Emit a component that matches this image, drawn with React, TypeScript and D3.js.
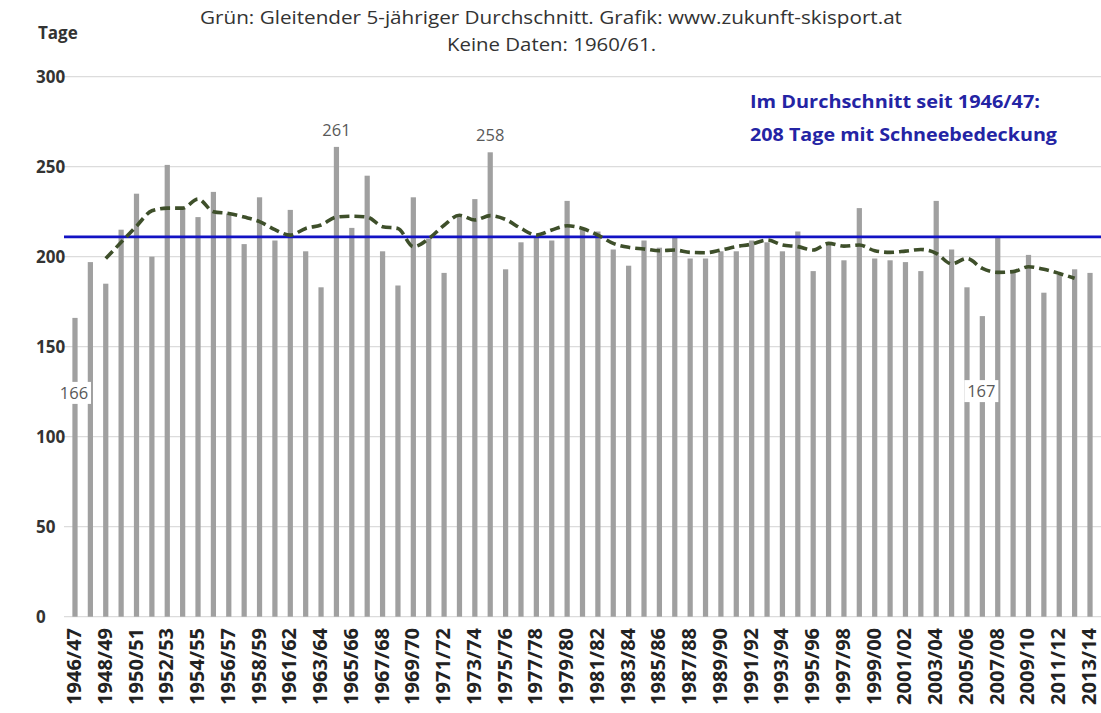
import * as d3 from "d3";
import React from "react";

// Schneebedeckung pro Winter (Tage), 1960/61 fehlt
const seasons = [
  "1946/47", "1947/48", "1948/49", "1949/50", "1950/51", "1951/52", "1952/53", "1953/54",
  "1954/55", "1955/56", "1956/57", "1957/58", "1958/59", "1959/60", "1961/62", "1962/63",
  "1963/64", "1964/65", "1965/66", "1966/67", "1967/68", "1968/69", "1969/70", "1970/71",
  "1971/72", "1972/73", "1973/74", "1974/75", "1975/76", "1976/77", "1977/78", "1978/79",
  "1979/80", "1980/81", "1981/82", "1982/83", "1983/84", "1984/85", "1985/86", "1986/87",
  "1987/88", "1988/89", "1989/90", "1990/91", "1991/92", "1992/93", "1993/94", "1994/95",
  "1995/96", "1996/97", "1997/98", "1998/99", "1999/00", "2000/01", "2001/02", "2002/03",
  "2003/04", "2004/05", "2005/06", "2006/07", "2007/08", "2008/09", "2009/10", "2010/11",
  "2011/12", "2012/13", "2013/14",
];

const snowDays = [
  166, 197, 185, 215, 235, 200, 251, 227, 222, 236, 224, 207, 233, 209, 226, 203,
  183, 261, 216, 245, 203, 184, 233, 210, 191, 222, 232, 258, 193, 208, 211, 209,
  231, 215, 214, 204, 195, 209, 205, 211, 199, 199, 203, 203, 209, 208, 203, 214,
  192, 208, 198, 227, 199, 198, 197, 192, 231, 204, 183, 167, 211, 192, 201, 180,
  190, 193, 191,
];

// gleitender 5-jähriger Durchschnitt
const movingAvg: (number | null)[] = [
  null, null, 199, 208, 217, 225.5, 227, 227, 232, 225, 224, 222, 219.5, 215, 212, 215.7,
  217.6, 222, 222.5, 222, 216.7, 215.7, 205.6, 210, 217.5, 223, 220.4, 222.8, 220.7, 215.7, 212, 214.8,
  217.2, 215.7, 212, 207.4, 205.2, 204.3, 203.3, 203.7, 202.4, 202.2, 203.7, 205.6, 207, 209.3, 206.5, 205.6,
  203.7, 207.4, 205.9, 206.5, 203.3, 202.4, 203.1, 204, 201.9, 196, 199, 193.5, 191.3, 191.7, 194.4, 193,
  190.7, 188, null,
];

const avgLine = 211;
const yTicks = [0, 50, 100, 150, 200, 250, 300];
const topLabels = ["1964/65", "1974/75"];
const lowLabels = ["1946/47", "2006/07"];

const W = 1101;
const H = 713;
const font = "'Open Sans', 'Liberation Sans', sans-serif";

export default function App() {
  const x = d3
    .scaleBand<string>()
    .domain(seasons)
    .range([67.3, 1097.7])
    .paddingInner(0.66)
    .paddingOuter(0.33);
  const y = d3.scaleLinear().domain([0, 300]).range([616.7, 76.7]);
  const cx = (s: string) => (x(s) as number) + x.bandwidth() / 2;

  const line = d3
    .line<number | null>()
    .defined((d) => d !== null)
    .x((_, i) => cx(seasons[i]))
    .y((d) => y(d as number))
    .curve(d3.curveMonotoneX);

  return (
    <svg
      width={W}
      height={H}
      style={{ position: "absolute", left: 0, top: 0, background: "#fff" }}
      fontFamily={font}
    >
      <rect width={W} height={H} fill="#fff" />
      <text x={200} y={24} fontSize={18} fill="#333" textLength={702} lengthAdjust="spacingAndGlyphs">
        Grün: Gleitender 5-jähriger Durchschnitt. Grafik: www.zukunft-skisport.at
      </text>
      <text x={447} y={51} fontSize={18} fill="#333" textLength={209} lengthAdjust="spacingAndGlyphs">
        Keine Daten: 1960/61.
      </text>
      <text x={38} y={39} fontSize={17} fontWeight="bold" fill="#333">
        Tage
      </text>

      {yTicks.map((t) => (
        <g key={t}>
          <line x1={64} x2={W} y1={y(t)} y2={y(t)} stroke="#dcdcdc" strokeWidth={1.2} />
          <text x={36} y={y(t)} dy="0.35em" fontSize={17} fontWeight="bold" fill="#333">
            {t}
          </text>
        </g>
      ))}

      {seasons.map((s, i) => (
        <rect
          key={s}
          x={x(s)}
          y={y(snowDays[i])}
          width={x.bandwidth()}
          height={y(0) - y(snowDays[i])}
          fill="#a0a0a0"
        />
      ))}

      <line x1={64} x2={W} y1={y(avgLine)} y2={y(avgLine)} stroke="#1212c4" strokeWidth={2.6} />

      <path
        d={line(movingAvg) || ""}
        fill="none"
        stroke="#3e4f2a"
        strokeWidth={3.6}
        strokeDasharray="10,5"
      />

      {topLabels.map((s) => {
        const v = snowDays[seasons.indexOf(s)];
        return (
          <text key={s} x={cx(s)} y={y(v) - 11} textAnchor="middle" fontSize={16.5} fill="#595959">
            {v}
          </text>
        );
      })}
      {lowLabels.map((s) => {
        const v = snowDays[seasons.indexOf(s)];
        const ly = y(v) + 75;
        return (
          <g key={s}>
            <rect x={cx(s) - 18} y={ly - 11} width={34} height={22} fill="#fff" />
            <text x={cx(s) - 1} y={ly} dy="0.35em" textAnchor="middle" fontSize={16.5} fill="#595959">
              {v}
            </text>
          </g>
        );
      })}

      <text x={750} y={108} fontSize={18} fontWeight="bold" fill="#2424a4" textLength={290} lengthAdjust="spacingAndGlyphs">
        Im Durchschnitt seit 1946/47:
      </text>
      <text x={750} y={141} fontSize={18} fontWeight="bold" fill="#2424a4" textLength={307} lengthAdjust="spacingAndGlyphs">
        208 Tage mit Schneebedeckung
      </text>

      {seasons
        .filter((_, i) => i % 2 === 0)
        .map((s) => (
          <text
            key={s}
            transform={`translate(${cx(s) + 6},${628}) rotate(-90)`}
            textAnchor="end"
            fontSize={20}
            fontWeight="bold"
            fill="#222"
          >
            {s}
          </text>
        ))}
    </svg>
  );
}
